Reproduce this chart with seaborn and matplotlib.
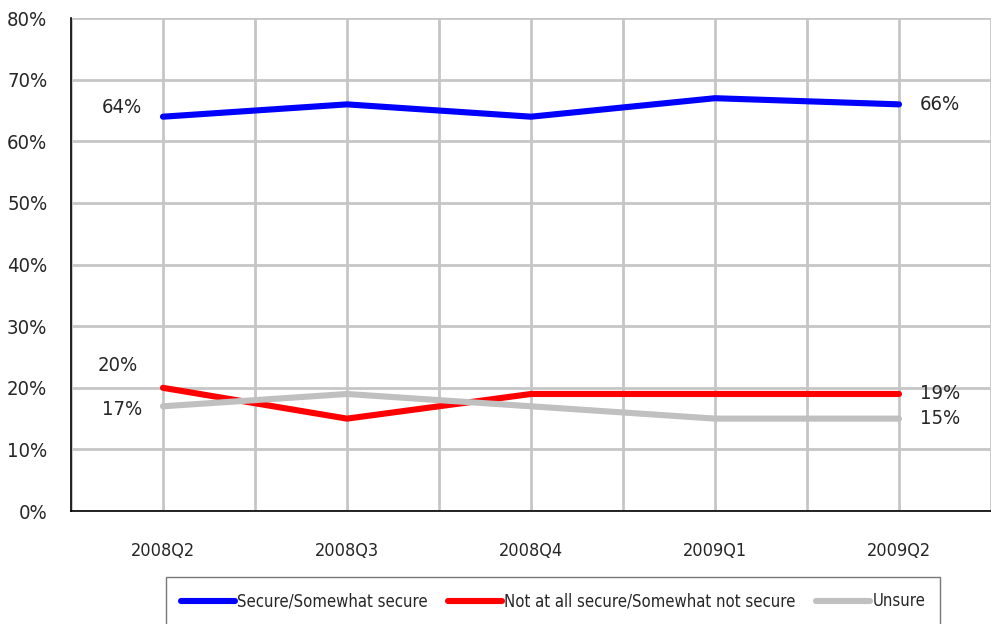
import pandas as pd
import seaborn as sns
import matplotlib.pyplot as plt
from matplotlib.ticker import MultipleLocator, FixedLocator, PercentFormatter

# Quarterly survey shares (%)
quarters = ['2008Q2', '2008Q3', '2008Q4', '2009Q1', '2009Q2']
secure = [64, 66, 64, 67, 66]
not_secure = [20, 15, 19, 19, 19]
unsure = [17, 19, 17, 15, 15]

series_names = ['Secure/Somewhat secure', 'Not at all secure/Somewhat not secure', 'Unsure']
colors = ['#0000ff', '#ff0000', '#c0c0c0']

df = pd.DataFrame({
    'Quarter': quarters * 3,
    'Share': secure + not_secure + unsure,
    'Series': [series_names[0]] * 5 + [series_names[1]] * 5 + [series_names[2]] * 5,
})
df['x'] = df['Quarter'].map({q: i for i, q in enumerate(quarters)})

sns.set_style('white')
plt.rcParams['font.family'] = ['DejaVu Sans']
plt.rcParams['font.stretch'] = 'condensed'

fig = plt.figure(figsize=(9.91, 6.24), dpi=100)
ax = fig.add_axes([0.0716, 0.181, 0.9284, 0.79])

sns.lineplot(data=df, x='x', y='Share', hue='Series', palette=colors,
             hue_order=series_names, linewidth=4.4, ax=ax,
             solid_capstyle='round', zorder=3)

ax.set_xlim(-0.5, 4.5)
ax.set_ylim(0, 80)
ax.yaxis.set_major_locator(MultipleLocator(10))
ax.yaxis.set_major_formatter(PercentFormatter(decimals=0))
ax.set_xticks(range(5))
ax.set_xticklabels(quarters)
ax.xaxis.set_minor_locator(FixedLocator([-0.5, 0.5, 1.5, 2.5, 3.5, 4.5]))
ax.tick_params(axis='x', which='major', length=0, pad=22, labelsize=13)
ax.tick_params(axis='x', which='minor', length=7, width=1, color='black', direction='out')
ax.tick_params(axis='y', length=7, width=1, color='#555555', direction='out', labelsize=14.5, pad=10)

ax.grid(axis='y', color='#c6c6c6', linewidth=2, zorder=0)
ax.grid(axis='x', which='both', color='#c6c6c6', linewidth=2, zorder=0)
ax.get_ygridlines()[-1].set_color('#eeeeee')
ax.set_xlabel('')
ax.set_ylabel('')

for s in ['top', 'right']:
    ax.spines[s].set_visible(False)
for s in ['left', 'bottom']:
    ax.spines[s].set_color('black')
    ax.spines[s].set_linewidth(1.2)

# Data labels at first and last points
first_offsets = [(-0.223, 1.5), (-0.245, 3.6), (-0.223, -0.6)]
for vals, (dx, dy) in zip([secure, not_secure, unsure], first_offsets):
    ax.text(dx, vals[0] + dy, f'{vals[0]}%', ha='center', va='center', fontsize=14.5)
    ax.text(4.223, vals[-1], f'{vals[-1]}%', ha='center', va='center', fontsize=14.5)

ax.get_legend().remove()
handles = [plt.Line2D([0], [0], color=c, linewidth=4.4) for c in colors]
fig.legend(handles, series_names, loc='upper center', bbox_to_anchor=(0.558, 0.088),
           ncol=3, frameon=True, fancybox=False, edgecolor='#555555',
           fontsize=12, handlelength=3.25, handletextpad=0.15, columnspacing=1.2,
           borderpad=0.9)

fig.savefig('out.png', dpi=100)
